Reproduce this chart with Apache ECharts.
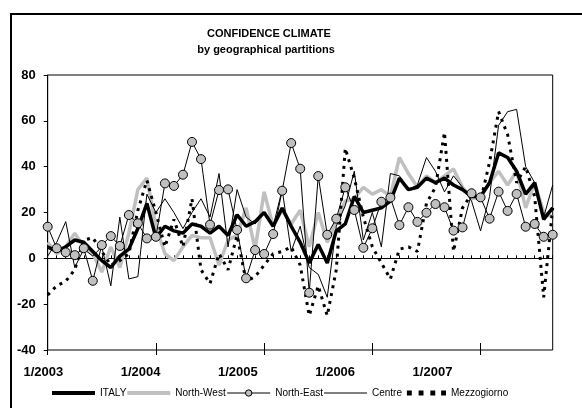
<!DOCTYPE html>
<html>
<head>
<meta charset="utf-8">
<script src="https://cdn.jsdelivr.net/npm/echarts@6/dist/echarts.min.js"></script>
<style>
html,body{margin:0;padding:0;background:#fff;}
#chart{width:582px;height:408px;}
</style>
</head>
<body>
<div id="chart"></div>
<script>
const months = [
 '1/2003','2/2003','3/2003','4/2003','5/2003','6/2003','7/2003','8/2003','9/2003','10/2003','11/2003','12/2003',
 '1/2004','2/2004','3/2004','4/2004','5/2004','6/2004','7/2004','8/2004','9/2004','10/2004','11/2004','12/2004',
 '1/2005','2/2005','3/2005','4/2005','5/2005','6/2005','7/2005','8/2005','9/2005','10/2005','11/2005','12/2005',
 '1/2006','2/2006','3/2006','4/2006','5/2006','6/2006','7/2006','8/2006','9/2006','10/2006','11/2006','12/2006',
 '1/2007','2/2007','3/2007','4/2007','5/2007','6/2007','7/2007','8/2007','9/2007'
];
const tickLabels = ['1/2003','1/2004','1/2005','1/2006','1/2007'];
const yTicks = [-40,-20,0,20,40,60,80];

const italy = [5,3,5,8,7,3,-1,-4,1,4, 13,24,9,14,12,11,15,14,11,14, 10,19,14,16,20,14,22,14,7,-2, 6,-2,12,15,27,20,21,22,25,35, 30,31,35,33,35,32,30,27,27,33, 46,44,38,28,33,17,22];
const northWest = [7,2,5,11,5,2,-6,5,-4,11, 30,35,14,2,-1,5,10,9,9,-3, 8,10,22,4,29,14,21,15,21,5, 20,7,16,25,26,31,28,30,27,44, 37,31,36,33,36,39,31,26,27,33, 38,32,38,22,33,20,18];
const northEast = [13.8,4.4,2.6,1.4,4.4,-9.8,5.8,9.7,5.4,18.9, 15.3,8.7,9.4,32.7,31.6,36.5,50.8,43.3,14.7,29.8, 30.1,12.4,-8.7,3.6,1.9,10.6,29.5,50.3,39.1,-15.0, 35.9,10.3,17.3,31.0,21.1,4.6,13.1,24.7,26.5,14.5, 22.3,15.9,19.9,23.7,22.3,12.1,13.5,28.4,26.6,17.3, 29.1,20.7,28.1,13.8,15.0,9.4,10.3];
const centre = [1,7,16,-4,4,1,5,-12,18,-9, -8,28,20,26,20,13,20,26,18,37, 5,30,18,15,20,14,30,3,14,-4, -7,-17,14,23,38,8,20,5,37,36, 30,32,44,38,29,36,31,25,12,27, 58,64,65,40,33,18,32];
const mezzogiorno = [-16,-12,-10,-5,8,9,3,-3,-1,2, 21,34,20,5,17,5,26,-5,-11,2, -5,10,-10,-8,-3,2,3,5,-3,-25, -12,-25,-5,48,35,18,5,-2,-9,4, 5,3,24,31,55,3,22,28,25,42, 64,54,33,40,27,-17,22];

const FONT = '"Liberation Sans", Arial, sans-serif';
const chart = echarts.init(document.getElementById('chart'), null, {renderer:'canvas'});

const catAxisBase = {
  type:'category', data: months, boundaryGap:false, gridIndex:0, position:'bottom',
  axisLabel:{show:false}, splitLine:{show:false}
};

const option = {
  animation:false,
  backgroundColor:'#ffffff',
  graphic:[
    {type:'rect', shape:{x:11, y:14, width:700, height:500}, style:{fill:'none', stroke:'#000', lineWidth:2}, z:-1},
    {type:'text', x:269, y:34, style:{text:'CONFIDENCE CLIMATE', font:'bold 11px '+FONT, fill:'#000', textAlign:'center', textVerticalAlign:'middle'}},
    {type:'text', x:266, y:50, style:{text:'by geographical partitions', font:'bold 11px '+FONT, fill:'#000', textAlign:'center', textVerticalAlign:'middle'}}
  ],
  grid:[
    {left:47.7, right:29.3, top:75, bottom:58, show:true, borderColor:'#000', borderWidth:1, backgroundColor:'transparent'},
    {left:43.3, width:389.2, top:75, bottom:58, show:false}
  ],
  xAxis:[
    Object.assign({}, catAxisBase, {
      axisLine:{show:true, lineStyle:{color:'#000', width:1}},
      axisTick:{show:true, inside:true, length:3, interval:0, lineStyle:{color:'#000'}}
    }),
    Object.assign({}, catAxisBase, {
      axisLine:{show:false},
      axisTick:{show:true, inside:true, length:7, interval:11, lineStyle:{color:'#000'}}
    }),
    Object.assign({}, catAxisBase, {
      axisLine:{show:false},
      axisTick:{show:true, inside:false, length:5, interval:11, lineStyle:{color:'#000'}}
    }),
    {
      type:'value', gridIndex:1, min:0, max:tickLabels.length-1, interval:1, position:'bottom',
      axisLine:{show:false}, axisTick:{show:false}, splitLine:{show:false},
      axisLabel:{show:true, margin:16, color:'#000', fontFamily:FONT, fontSize:13, fontWeight:'bold',
        formatter:function(v){ return tickLabels[Math.round(v)] || ''; }}
    }
  ],
  yAxis:[
    {type:'value', gridIndex:0, min:yTicks[0], max:yTicks[yTicks.length-1], interval:20,
      axisLine:{show:true, lineStyle:{color:'#000', width:1}},
      axisTick:{show:true, inside:false, length:4, lineStyle:{color:'#000'}},
      splitLine:{show:false},
      axisLabel:{margin:12, color:'#000', fontFamily:FONT, fontSize:13, fontWeight:'bold'}
    },
    {type:'value', gridIndex:1, min:0, max:1, show:false}
  ],
  legend:{
    data:[
      {name:'ITALY', icon:'path://M0,0H43V4H0Z'},
      {name:'North-West', icon:'path://M0,0H43V4H0Z'},
      {name:'North-East', lineStyle:{width:1, color:'#000'},
        itemStyle:{color:'#c0c0c0', borderColor:'#000', borderWidth:1}},
      {name:'Centre', icon:'path://M0,0H43V1H0Z'},
      {name:'Mezzogiorno', icon:'path://M0,0H0.01V5H0Z M4,0H9V5H4Z M16,0H21V5H16Z M28,0H33V5H28Z M39,0H44V5H39Z'}
    ],
    left:47, top:383, itemWidth:43, itemHeight:8, itemGap:1,
    textStyle:{fontFamily:FONT, fontSize:10, color:'#000'}
  },
  series:[
    {name:'North-West', type:'line', data:northWest, symbol:'none', z:2,
      lineStyle:{color:'#c0c0c0', width:3.5}, itemStyle:{color:'#c0c0c0'}},
    {name:'Centre', type:'line', data:centre, symbol:'none', z:3,
      lineStyle:{color:'#000', width:1}, itemStyle:{color:'#000'}},
    {name:'Mezzogiorno', type:'line', data:mezzogiorno, symbol:'none', z:3,
      lineStyle:{color:'#000', width:3, type:[3,5], cap:'butt'}, itemStyle:{color:'#000'}},
    {name:'ITALY', type:'line', data:italy, symbol:'none', z:4,
      lineStyle:{color:'#000', width:3.5}, itemStyle:{color:'#000'}},
    {name:'North-East', type:'line', data:northEast, symbol:'circle', symbolSize:9, z:5,
      showSymbol:true, showAllSymbol:true,
      lineStyle:{color:'#000', width:1},
      itemStyle:{color:'#c0c0c0', borderColor:'#000', borderWidth:1}}
  ]
};
chart.setOption(option);
</script>
</body>
</html>
